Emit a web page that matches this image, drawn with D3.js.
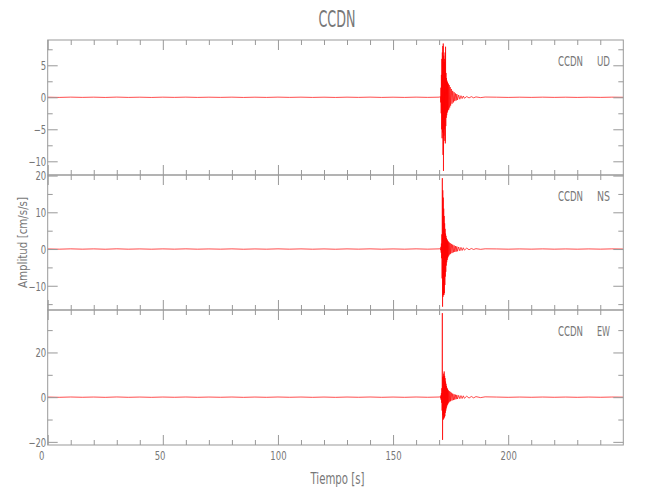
<!DOCTYPE html>
<html><head><meta charset="utf-8">
<script src="https://cdn.jsdelivr.net/npm/d3@7"></script>
<style>
body{margin:0;background:#fff}
svg text{font-family:"Liberation Sans Narrow","DejaVu Sans Condensed","Liberation Sans",sans-serif;fill:#777}
</style>
</head><body><svg id="chart" width="650" height="500"></svg>
<script>
// ---------------- data ----------------
const station = "CCDN";
const components = ["UD", "NS", "EW"];
const timeRange = [0, 250];
const timeMajor = [0, 50, 100, 150, 200];
const timeMinor = [10, 20, 30, 40, 60, 70, 80, 90, 110, 120, 130, 140, 160, 170, 180, 190, 210, 220, 230, 240];

const udRange = [-12.14, 8.95];
const nsRange = [-16.6, 20.16];
const ewRange = [-21.4, 39.0];
const udTicks = [-10, -5, 0, 5];
const nsTicks = [-10, 0, 10, 20];
const ewTicks = [-20, 0, 20];
const udMinor = [-7.5, -2.5, 2.5, 7.5];
const nsMinor = [-15, -5, 5, 15];
const ewMinor = [-10, 10, 30];

const noiseTimes = [0,5,10,15,20,25,30,35,40,45,50,55,60,65,70,75,80,85,90,95,100,105,110,115,120,125,130,135,140,145,150,155,160,165,170,195,200,205,210,215,220,225,230,235,240,245,250];
const udNoise = [0.015,-0.02,0.025,-0.015,0.02,-0.025,0.03,-0.02,0.015,-0.025,0.02,-0.015,0.025,-0.02,0.015,-0.015,0.02,-0.025,0.015,-0.02,0.025,-0.015,0.02,-0.02,0.015,-0.025,0.02,-0.015,0.025,-0.02,0.015,-0.02,0.025,-0.015,0.02,0.015,-0.02,0.015,-0.015,0.02,-0.015,0.015,-0.02,0.015,-0.015,0.02,0.0];
const nsNoise = [0.03,-0.04,0.05,-0.035,0.04,-0.05,0.06,-0.04,0.035,-0.045,0.04,-0.03,0.05,-0.04,0.03,-0.035,0.045,-0.05,0.03,-0.04,0.05,-0.035,0.04,-0.045,0.035,-0.05,0.04,-0.03,0.05,-0.04,0.035,-0.04,0.05,-0.035,0.045,0.03,-0.04,0.035,-0.03,0.04,-0.035,0.03,-0.04,0.035,-0.03,0.04,0.0];
const ewNoise = [0.05,-0.06,0.075,-0.05,0.06,-0.075,0.09,-0.06,0.05,-0.07,0.06,-0.05,0.075,-0.06,0.05,-0.05,0.065,-0.075,0.05,-0.06,0.075,-0.05,0.06,-0.065,0.05,-0.075,0.06,-0.05,0.075,-0.06,0.05,-0.06,0.075,-0.05,0.065,0.05,-0.06,0.05,-0.05,0.06,-0.05,0.05,-0.06,0.05,-0.05,0.06,0.0];

const eventTimes = [170.6,170.7,170.8,170.9,171.0,171.1,171.2,171.3,171.4,171.5,171.6,171.7,171.8,171.9,172.0,172.1,172.2,172.3,172.4,172.5,172.6,172.7,172.8,172.9,173.0,173.1,173.2,173.3,173.4,173.5,173.6,173.7,173.8,173.9,174.0,174.2,174.4,174.6,174.8,175.0,175.3,175.6,175.9,176.2,176.5,176.8,177.1,177.4,177.7,178.0,178.5,179.0,179.5,180.0,180.5,181.0,182.0,183.0,184.0,185.0,186.0,188.0,190.0];
const udEvent = [0.1,-0.8,1.5,-2.5,3.5,-5.0,6.0,-6.4,7.0,-5.5,8.0,-9.0,8.4,-11.5,6.5,-6.0,5.5,-5.0,6.0,-6.8,7.0,-7.2,7.9,-4.5,3.8,-3.2,3.0,-2.8,2.6,-2.4,2.4,-2.2,2.2,-2.0,2.1,-1.9,1.9,-1.6,1.6,-1.3,1.3,-1.0,1.0,-0.8,0.8,-0.6,0.6,-0.5,0.5,-0.4,0.35,-0.3,0.25,-0.2,0.2,-0.15,0.12,-0.1,0.1,-0.08,0.06,-0.05,0.04];
const nsEvent = [0.1,-0.3,0.6,-1.0,1.5,-2.5,4.0,-8.0,19.3,-15.7,16.0,-13.0,14.0,-12.5,11.0,-12.5,9.0,-12.0,7.0,-9.8,5.5,-7.5,4.2,-6.2,3.6,-4.5,3.0,-3.6,2.7,-3.0,2.4,-2.5,2.2,-2.1,2.0,-1.8,1.8,-1.5,1.6,-1.3,1.4,-1.1,1.2,-0.9,1.0,-0.8,0.8,-0.7,0.7,-0.6,0.55,-0.5,0.45,-0.4,0.35,-0.3,0.25,-0.2,0.15,-0.12,0.1,-0.08,0.06];
const ewEvent = [0.2,-0.5,0.8,-1.2,1.8,-2.5,4.0,-6.0,37.6,-19.1,9.0,-8.0,9.5,-10.0,10.5,-9.5,11.5,-9.0,9.5,-8.5,8.5,-7.0,7.0,-6.0,6.0,-5.0,5.0,-4.2,4.2,-3.6,3.8,-3.2,3.3,-2.8,3.0,-2.4,2.7,-2.0,2.4,-1.8,2.0,-1.5,1.6,-1.3,1.3,-1.1,1.1,-0.9,1.0,-0.8,0.8,-0.7,0.7,-0.6,0.6,-0.5,0.45,-0.4,0.3,-0.3,0.25,-0.2,0.15];

const titleText = station;
const xTitle = "Tiempo  [s]";
const yTitle = "Amplitud  [cm/s/s]";

// ---------------- drawing ----------------
const panels = [
  {comp: components[0], range: udRange, major: udTicks, minor: udMinor, noise: udNoise, event: udEvent},
  {comp: components[1], range: nsRange, major: nsTicks, minor: nsMinor, noise: nsNoise, event: nsEvent},
  {comp: components[2], range: ewRange, major: ewTicks, minor: ewMinor, noise: ewNoise, event: ewEvent}
];

const svg = d3.select("#chart");
const left = 47.7, right = 623.3, top0 = 40, panelH = 135;
const axisColor = "#999";
const textColor = "#777";
const x = d3.scaleLinear().domain(timeRange).range([left, right]);

function labelWidth(s) {
  let w = 0;
  for (const c of s) w += (c === "\u2212" || c === "-") ? 7 : 5.4;
  return w;
}

const fmt = v => (v < 0 ? "\u2212" + Math.abs(v) : String(v));

panels.forEach((p, i) => {
  const t = top0 + i * panelH, b = t + panelH;
  const y = d3.scaleLinear().domain(p.range).range([b, t]);
  const g = svg.append("g");

  const cid = "clip" + i;
  svg.append("clipPath").attr("id", cid).append("rect")
    .attr("x", left).attr("y", t).attr("width", right - left).attr("height", panelH);

  const pts = [];
  noiseTimes.forEach((tt, k) => pts.push([tt, p.noise[k]]));
  eventTimes.forEach((tt, k) => pts.push([tt, p.event[k]]));
  pts.sort((a, c) => a[0] - c[0]);
  const line = d3.line().x(d => x(d[0])).y(d => y(d[1]));
  g.append("path").datum(pts).attr("clip-path", `url(#${cid})`)
    .attr("d", line).attr("fill", "none").attr("stroke", "#ff0000")
    .attr("stroke-width", 0.7).attr("stroke-linejoin", "miter");

  g.append("rect").attr("x", left).attr("y", t).attr("width", right - left).attr("height", panelH)
    .attr("fill", "none").attr("stroke", axisColor).attr("stroke-width", 1);

  const styleAxis = sel => {
    sel.select(".domain").remove();
    sel.selectAll("line").attr("stroke", axisColor);
  };

  const yl = g.append("g").attr("transform", `translate(${left},0)`)
    .call(d3.axisLeft(y).tickValues(p.major).tickSize(-10).tickSizeOuter(0).tickPadding(1.5).tickFormat(fmt));
  styleAxis(yl);
  yl.selectAll("text").attr("font-size", 12).attr("fill", textColor).style("font-family", null)
    .attr("dy", "0.36em")
    .each(function () { const s = this.textContent; d3.select(this).attr("textLength", labelWidth(s)).attr("lengthAdjust", "spacingAndGlyphs"); });
  const ylm = g.append("g").attr("transform", `translate(${left},0)`)
    .call(d3.axisLeft(y).tickValues(p.minor).tickSize(-5).tickSizeOuter(0).tickFormat(""));
  styleAxis(ylm);
  const yr = g.append("g").attr("transform", `translate(${right},0)`)
    .call(d3.axisRight(y).tickValues(p.major).tickSize(-10).tickSizeOuter(0).tickFormat(""));
  styleAxis(yr);
  const yrm = g.append("g").attr("transform", `translate(${right},0)`)
    .call(d3.axisRight(y).tickValues(p.minor).tickSize(-5).tickSizeOuter(0).tickFormat(""));
  styleAxis(yrm);

  const xt = g.append("g").attr("transform", `translate(0,${t})`)
    .call(d3.axisTop(x).tickValues(timeMajor).tickSize(-10).tickSizeOuter(0).tickFormat(""));
  styleAxis(xt);
  const xtm = g.append("g").attr("transform", `translate(0,${t})`)
    .call(d3.axisTop(x).tickValues(timeMinor).tickSize(-5).tickSizeOuter(0).tickFormat(""));
  styleAxis(xtm);
  const isLast = i === panels.length - 1;
  const xb = g.append("g").attr("transform", `translate(0,${b})`)
    .call(d3.axisBottom(x).tickValues(timeMajor).tickSize(-10).tickSizeOuter(0).tickPadding(6)
      .tickFormat(isLast ? d3.format("d") : ""));
  styleAxis(xb);
  if (isLast) {
    xb.selectAll("text").attr("font-size", 12).attr("fill", textColor).style("font-family", null)
      .attr("dy", "0.72em")
      .each(function () {
        const s = this.textContent;
        d3.select(this).attr("dx", -(3 - s.length) * 3.3)
          .attr("textLength", labelWidth(s)).attr("lengthAdjust", "spacingAndGlyphs");
      });
  }
  const xbm = g.append("g").attr("transform", `translate(0,${b})`)
    .call(d3.axisBottom(x).tickValues(timeMinor).tickSize(-5).tickSizeOuter(0).tickFormat(""));
  styleAxis(xbm);

  g.append("text").attr("x", 558).attr("y", t + 26).attr("font-size", 14)
    .attr("textLength", 25).attr("lengthAdjust", "spacingAndGlyphs").text(station);
  g.append("text").attr("x", 597).attr("y", t + 26).attr("font-size", 14)
    .attr("textLength", 13).attr("lengthAdjust", "spacingAndGlyphs").text(p.comp);
});

svg.append("text").attr("x", 337).attr("y", 27).attr("text-anchor", "middle")
  .attr("font-size", 23).attr("textLength", 37).attr("lengthAdjust", "spacingAndGlyphs").text(titleText);
svg.append("text").attr("x", 337.5).attr("y", 484).attr("text-anchor", "middle")
  .attr("font-size", 16).attr("textLength", 54).attr("lengthAdjust", "spacingAndGlyphs").text(xTitle);
svg.append("text").attr("transform", "translate(27,242.5) rotate(-90)").attr("text-anchor", "middle")
  .attr("font-size", 13).attr("textLength", 91).attr("lengthAdjust", "spacingAndGlyphs").text(yTitle);
</script>
</body></html>
